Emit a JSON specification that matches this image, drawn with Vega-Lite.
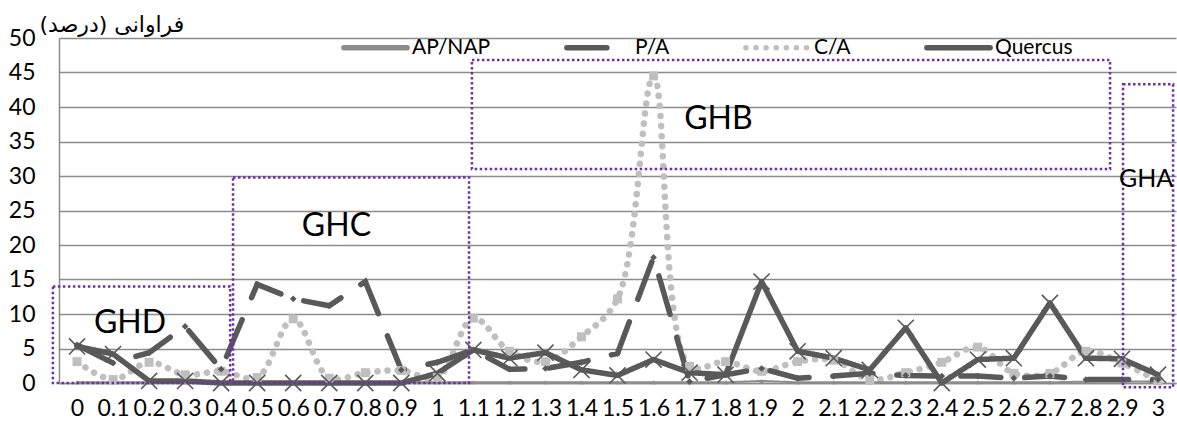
{
  "$schema": "https://vega.github.io/schema/vega-lite/v6.json",
  "width": 1117,
  "height": 345,
  "autosize": {"type": "none"},
  "padding": {"left": 59, "top": 38, "right": 1, "bottom": 44},
  "background": "white",
  "config": {
    "view": {"stroke": null},
    "font": "Lato",
    "legend": {
      "symbolType": "stroke",
      "symbolSize": 4000,
      "symbolStrokeWidth": 5.5,
      "labelFont": "Lato",
      "labelFontSize": 21,
      "labelColor": "black",
      "labelOffset": 2,
      "columnPadding": 64
    }
  },
  "datasets": {
    "series": [
      {"x": 0, "AP/NAP": 0.1, "P/A": 5.5, "C/A": 3.1, "Quercus": 5.3},
      {"x": 0.1, "AP/NAP": 0.1, "P/A": 2.9, "C/A": 0.5, "Quercus": 4.2},
      {"x": 0.2, "AP/NAP": 0.1, "P/A": 4.4, "C/A": 3.0, "Quercus": 0.3},
      {"x": 0.3, "AP/NAP": 0.1, "P/A": 8.2, "C/A": 1.2, "Quercus": 0.3},
      {"x": 0.4, "AP/NAP": 0.1, "P/A": 2.0, "C/A": 1.7, "Quercus": 0},
      {"x": 0.5, "AP/NAP": 0.1, "P/A": 14.3, "C/A": 0.8, "Quercus": 0},
      {"x": 0.6, "AP/NAP": 0.1, "P/A": 12.2, "C/A": 9.3, "Quercus": 0},
      {"x": 0.7, "AP/NAP": 0.1, "P/A": 11.2, "C/A": 0.7, "Quercus": 0},
      {"x": 0.8, "AP/NAP": 0.1, "P/A": 14.7, "C/A": 1.5, "Quercus": 0},
      {"x": 0.9, "AP/NAP": 0.1, "P/A": 1.9, "C/A": 1.8, "Quercus": 0},
      {"x": 1, "AP/NAP": 0.1, "P/A": 3.0, "C/A": 0.8, "Quercus": 1.4},
      {"x": 1.1, "AP/NAP": 0.1, "P/A": 4.8, "C/A": 9.4, "Quercus": 4.8},
      {"x": 1.2, "AP/NAP": 0.1, "P/A": 2.0, "C/A": 4.6, "Quercus": 3.6},
      {"x": 1.3, "AP/NAP": 0.1, "P/A": 2.1, "C/A": 3.1, "Quercus": 4.4},
      {"x": 1.4, "AP/NAP": 0.1, "P/A": 3.0, "C/A": 6.7, "Quercus": 1.9},
      {"x": 1.5, "AP/NAP": 0.1, "P/A": 4.3, "C/A": 12.2, "Quercus": 1.1},
      {"x": 1.6, "AP/NAP": 0.1, "P/A": 18.2, "C/A": 44.5, "Quercus": 3.4},
      {"x": 1.7, "AP/NAP": 0.1, "P/A": 0.2, "C/A": 2.4, "Quercus": 1.5},
      {"x": 1.8, "AP/NAP": 0.1, "P/A": 1.2, "C/A": 3.1, "Quercus": 1.2},
      {"x": 1.9, "AP/NAP": 0.3, "P/A": 2.1, "C/A": 1.7, "Quercus": 14.7},
      {"x": 2, "AP/NAP": 0.1, "P/A": 0.7, "C/A": 3.1, "Quercus": 4.6},
      {"x": 2.1, "AP/NAP": 0.1, "P/A": 1.0, "C/A": 3.3, "Quercus": 3.6},
      {"x": 2.2, "AP/NAP": 0.1, "P/A": 1.4, "C/A": 0.5, "Quercus": 1.9},
      {"x": 2.3, "AP/NAP": 0.1, "P/A": 1.1, "C/A": 1.5, "Quercus": 8.0},
      {"x": 2.4, "AP/NAP": 0.1, "P/A": 1.0, "C/A": 3.0, "Quercus": 0},
      {"x": 2.5, "AP/NAP": 0.1, "P/A": 1.0, "C/A": 5.2, "Quercus": 3.4},
      {"x": 2.6, "AP/NAP": 0.1, "P/A": 0.7, "C/A": 1.4, "Quercus": 3.6},
      {"x": 2.7, "AP/NAP": 0.1, "P/A": 1.0, "C/A": 1.4, "Quercus": 11.6},
      {"x": 2.8, "AP/NAP": 0.2, "P/A": 0.5, "C/A": 4.6, "Quercus": 3.6},
      {"x": 2.9, "AP/NAP": 0.2, "P/A": 0.5, "C/A": 2.9, "Quercus": 3.5},
      {"x": 3, "AP/NAP": 0.2, "P/A": 0.5, "C/A": 0.3, "Quercus": 1.2}
    ],
    "boxes": [
      {"name": "GHD", "x": -0.067, "x2": 0.425, "v": 0, "v2": 14},
      {"name": "GHC", "x": 0.433, "x2": 1.088, "v": 0, "v2": 29.8},
      {"name": "GHB", "x": 1.096, "x2": 2.867, "v": 31, "v2": 46.8},
      {"name": "GHA", "x": 2.903, "x2": 3.042, "v": -0.6, "v2": 43.3}
    ],
    "tags": [
      {"label": "GHD", "x": 0.147, "v": 8.65},
      {"label": "GHC", "x": 0.72, "v": 22.7},
      {"label": "GHB", "x": 1.78, "v": 38.2}
    ],
    "smalltags": [
      {"label": "GHA", "x": 2.967, "v": 29.6}
    ]
  },
  "encoding": {
    "x": {
      "field": "x",
      "type": "quantitative",
      "scale": {"domain": [-0.05, 3.05], "nice": false, "zero": false},
      "axis": {
        "title": null,
        "values": [0, 0.1, 0.2, 0.3, 0.4, 0.5, 0.6, 0.7, 0.8, 0.9, 1, 1.1, 1.2, 1.3, 1.4, 1.5, 1.6, 1.7, 1.8, 1.9, 2, 2.1, 2.2, 2.3, 2.4, 2.5, 2.6, 2.7, 2.8, 2.9, 3],
        "format": ".1~f",
        "grid": false,
        "ticks": false,
        "domainColor": "#8c8c8c",
        "domainWidth": 1.5,
        "labelFont": "Lato",
        "labelFontSize": 23,
        "labelColor": "black",
        "labelPadding": 14,
        "labelOverlap": false,
        "labelFlush": false
      }
    },
    "y": {
      "field": "v",
      "type": "quantitative",
      "scale": {"domain": [0, 50], "nice": false},
      "axis": {
        "title": "فراوانی (درصد)",
        "titleAngle": 0,
        "titleAlign": "left",
        "titleBaseline": "middle",
        "titleX": -20,
        "titleY": -14,
        "titleFont": "DejaVu Sans",
        "titleFontSize": 22,
        "titleFontWeight": "normal",
        "titleColor": "black",
        "values": [0, 5, 10, 15, 20, 25, 30, 35, 40, 45, 50],
        "grid": true,
        "gridColor": "#8c8c8c",
        "gridWidth": 1.4,
        "ticks": false,
        "domainColor": "#8c8c8c",
        "domainWidth": 1.5,
        "labelFont": "Lato",
        "labelFontSize": 23,
        "labelColor": "black",
        "labelPadding": 24,
        "labelOverlap": false
      }
    }
  },
  "layer": [
    {
      "data": {"name": "series"},
      "transform": [
        {"fold": ["C/A"], "as": ["series", "v"]}
      ],
      "mark": {"type": "line", "interpolate": "catmull-rom", "strokeCap": "round", "strokeWidth": 6.5},
      "encoding": {
        "color": {
          "field": "series",
          "type": "nominal",
          "scale": {"domain": ["AP/NAP", "P/A", "C/A", "Quercus"], "range": ["#8c8c8c", "#595959", "#bfbfbf", "#595959"]},
          "legend": {
            "orient": "none",
            "legendX": 282,
            "legendY": -25,
            "direction": "horizontal",
            "title": null,
            "encode": {
              "symbols": {
                "update": {
                  "strokeWidth": {"value": 5.5},
                  "strokeCap": {"value": "round"}
                }
              }
            }
          }
        },
        "strokeDash": {
          "field": "series",
          "type": "nominal",
          "scale": {"domain": ["AP/NAP", "P/A", "C/A", "Quercus"], "range": [[1, 0], [40, 24], [0.1, 10], [1, 0]]}
        }
      }
    },
    {
      "data": {"name": "series"},
      "transform": [
        {"fold": ["AP/NAP"], "as": ["series", "v"]}
      ],
      "mark": {"type": "line", "strokeWidth": 2},
      "encoding": {
        "color": {"field": "series", "type": "nominal"},
        "strokeDash": {"field": "series", "type": "nominal"}
      }
    },
    {
      "data": {"name": "series"},
      "transform": [
        {"fold": ["P/A"], "as": ["series", "v"]}
      ],
      "mark": {"type": "line", "strokeCap": "round", "strokeWidth": 5.5},
      "encoding": {
        "color": {"field": "series", "type": "nominal"},
        "strokeDash": {"field": "series", "type": "nominal"}
      }
    },
    {
      "data": {"name": "series"},
      "transform": [
        {"fold": ["Quercus"], "as": ["series", "v"]}
      ],
      "mark": {"type": "line", "strokeCap": "round", "strokeJoin": "round", "strokeWidth": 5.5},
      "encoding": {
        "color": {"field": "series", "type": "nominal"},
        "strokeDash": {"field": "series", "type": "nominal"}
      }
    },
    {
      "data": {"name": "series"},
      "transform": [{"fold": ["AP/NAP"], "as": ["series", "v"]}],
      "mark": {"type": "point", "shape": "triangle-up", "filled": true, "size": 22, "color": "#8c8c8c", "opacity": 1}
    },
    {
      "data": {"name": "series"},
      "transform": [{"fold": ["C/A"], "as": ["series", "v"]}],
      "mark": {"type": "point", "shape": "square", "filled": true, "size": 80, "color": "#bfbfbf", "opacity": 1}
    },
    {
      "data": {"name": "series"},
      "transform": [{"fold": ["P/A"], "as": ["series", "v"]}],
      "mark": {"type": "point", "shape": "diamond", "filled": true, "size": 45, "color": "#595959", "opacity": 1}
    },
    {
      "data": {"name": "series"},
      "transform": [{"fold": ["Quercus"], "as": ["series", "v"]}],
      "mark": {"type": "point", "shape": "M-1,-1L1,1M-1,1L1,-1", "filled": false, "size": 260, "color": "#595959", "strokeWidth": 1.6, "opacity": 1}
    },
    {
      "data": {"name": "boxes"},
      "mark": {"type": "rect", "fill": null, "fillOpacity": 0, "stroke": "#7030a0", "strokeWidth": 2.5, "strokeDash": [2.5, 2.5]},
      "encoding": {
        "x2": {"field": "x2"},
        "y2": {"field": "v2"}
      }
    },
    {
      "data": {"name": "tags"},
      "mark": {"type": "text", "font": "Lato", "fontSize": 32, "color": "black", "align": "center", "baseline": "middle"},
      "encoding": {
        "text": {"field": "label"}
      }
    },
    {
      "data": {"name": "smalltags"},
      "mark": {"type": "text", "font": "Lato", "fontSize": 25, "color": "black", "align": "center", "baseline": "middle"},
      "encoding": {
        "text": {"field": "label"}
      }
    }
  ]
}
